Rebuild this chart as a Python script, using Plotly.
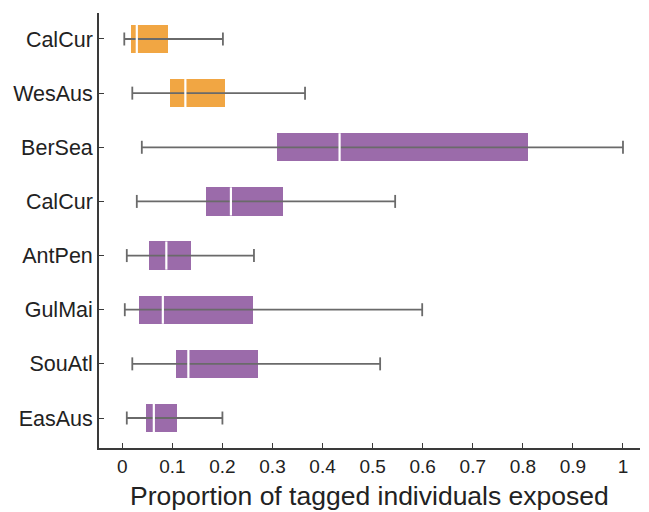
import plotly.graph_objects as go

# Regions, listed top to bottom
regions = ["CalCur", "WesAus", "BerSea", "CalCur", "AntPen", "GulMai", "SouAtl", "EasAus"]
groups = ["orange", "orange", "purple", "purple", "purple", "purple", "purple", "purple"]

# Box-plot summaries (proportion of tagged individuals exposed)
whisker_low = [0.004, 0.020, 0.039, 0.029, 0.009, 0.005, 0.020, 0.009]
quart_1 = [0.018, 0.096, 0.308, 0.167, 0.053, 0.034, 0.108, 0.047]
medians = [0.029, 0.126, 0.434, 0.217, 0.088, 0.081, 0.132, 0.063]
quart_3 = [0.092, 0.206, 0.811, 0.320, 0.138, 0.261, 0.271, 0.110]
whisker_high = [0.201, 0.365, 1.000, 0.545, 0.263, 0.599, 0.515, 0.200]

x_ticks = [0, 0.1, 0.2, 0.3, 0.4, 0.5, 0.6, 0.7, 0.8, 0.9, 1]
x_tick_text = ["0", "0.1", "0.2", "0.3", "0.4", "0.5", "0.6", "0.7", "0.8", "0.9", "1"]
x_title = "Proportion of tagged individuals exposed"

palette = {"orange": "#F1A643", "purple": "#9B6BAA"}
whisker_color = "#6a6a6a"
axis_color = "#3a3a3a"
box_w = 0.52
cap_half = 0.12
med_half = box_w / 2

n = len(regions)
ypos = [n - 1 - i for i in range(n)]

fig = go.Figure()

# whisker lines and end caps
wx, wy = [], []
for lo, hi, y in zip(whisker_low, whisker_high, ypos):
    wx += [lo, hi, None, lo, lo, None, hi, hi, None]
    wy += [y, y, None, y - cap_half, y + cap_half, None, y - cap_half, y + cap_half, None]
fig.add_trace(go.Scatter(x=wx, y=wy, mode="lines",
                         line=dict(color=whisker_color, width=1.8),
                         hoverinfo="skip", showlegend=False))

# interquartile boxes
fig.add_trace(go.Bar(
    y=ypos,
    x=[b - a for a, b in zip(quart_1, quart_3)],
    base=quart_1,
    orientation="h",
    width=box_w,
    marker=dict(color=[palette[g] for g in groups], line=dict(width=0)),
    showlegend=False,
))

# median marks
mx, my = [], []
for m, y in zip(medians, ypos):
    mx += [m, m, None]
    my += [y - med_half, y + med_half, None]
fig.add_trace(go.Scatter(x=mx, y=my, mode="lines",
                         line=dict(color="white", width=2.2),
                         hoverinfo="skip", showlegend=False))

font_family = "Liberation Sans, Arial, Helvetica, sans-serif"

fig.update_layout(
    width=649, height=512,
    margin=dict(l=99, r=9, t=13, b=64),
    plot_bgcolor="white", paper_bgcolor="white",
    font=dict(family=font_family, color="#222222"),
    bargap=0,
    xaxis=dict(
        range=[-0.0465, 1.034],
        tickvals=x_ticks, ticktext=x_tick_text,
        ticks="inside", ticklen=5, tickwidth=1.3, tickcolor=axis_color,
        showline=True, linecolor=axis_color, linewidth=1.8,
        showgrid=False, zeroline=False,
        tickfont=dict(size=19, family=font_family, color="#222222"),
    ),
    yaxis=dict(
        range=[-0.554, 7.48],
        tickvals=ypos, ticktext=regions,
        ticks="inside", ticklen=5, tickwidth=1.3, tickcolor=axis_color,
        showline=True, linecolor=axis_color, linewidth=1.8,
        showgrid=False, zeroline=False,
        tickfont=dict(size=21.5, family=font_family, color="#222222"),
    ),
    annotations=[dict(
        text=x_title, xref="paper", yref="paper", x=0.5, y=0,
        xanchor="center", yanchor="top", yshift=-31, showarrow=False,
        font=dict(size=26.5, family=font_family, color="#222222"),
    )],
)

fig.write_html("out.html")
